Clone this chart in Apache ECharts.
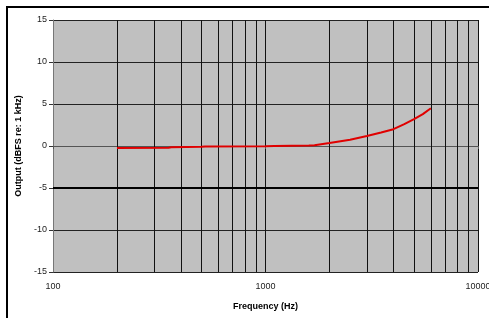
<!DOCTYPE html>
<html lang="en">
<head>
    <meta charset="UTF-8">
    <script type="text/javascript" src="https://cdn.jsdelivr.net/npm/echarts@6/dist/echarts.min.js"></script>
    <title>Frequency response</title>
</head>
<body style="margin:0;background:#fff;">
<div id="chart" style="width: 489px;height:318px;"></div>
<script type="text/javascript">
    var freqs = [200, 350, 360, 500, 520, 1000, 1100, 1600, 1700, 2000, 2500, 3000, 3500, 4000, 4500, 5000, 5500, 6000];
    var output = [-0.25, -0.2, -0.15, -0.1, -0.05, -0.02, 0, 0.05, 0.1, 0.35, 0.75, 1.2, 1.6, 2.0, 2.6, 3.2, 3.8, 4.5];
    var yTicks = [-15, -10, -5, 0, 5, 10, 15];
    // intermediate log grid lines
    var minorFreqs = [200, 300, 400, 500, 600, 700, 800, 900, 2000, 3000, 4000, 5000, 6000, 7000, 8000, 9000];

    var chart = echarts.init(document.getElementById('chart'));
    var font = 'Liberation Sans, Arial, sans-serif';

    chart.setOption({
        animation: false,
        textStyle: { fontFamily: font },
        // frame: only top and left edges fall inside the picture
        graphic: [{
            type: 'rect',
            shape: { x: 7, y: 7, width: 600, height: 600 },
            style: { fill: null, stroke: '#000', lineWidth: 2 },
            z: 100
        }],
        grid: {
            left: 53, top: 20, right: 11, bottom: 46,
            outerBoundsMode: 'none',
            containLabel: false,
            show: true, backgroundColor: '#c0c0c0', borderWidth: 0
        },
        xAxis: {
            type: 'log',
            logBase: 10,
            min: 100,
            max: 10000,
            name: 'Frequency (Hz)',
            nameLocation: 'middle',
            nameGap: 30,
            nameTextStyle: { fontWeight: 'bold', fontSize: 9, color: '#000', fontFamily: font },
            axisLine: { lineStyle: { color: '#555', width: 1 } },
            axisTick: { length: 3, lineStyle: { color: '#555' } },
            axisLabel: {
                fontSize: 9, color: '#222', margin: 10,
                formatter: function (v) { return String(Math.round(v)); }
            },
            splitLine: { show: true, lineStyle: { color: '#111', width: 1 } }
        },
        yAxis: {
            type: 'value',
            min: yTicks[0],
            max: yTicks[yTicks.length - 1],
            interval: 5,
            name: 'Output (dBFS re: 1 kHz)',
            nameLocation: 'middle',
            nameGap: 28,
            nameTextStyle: { fontWeight: 'bold', fontSize: 9, color: '#000', fontFamily: font },
            axisLine: { show: true, lineStyle: { color: '#777', width: 1 } },
            axisTick: { show: true, length: 4, lineStyle: { color: '#333' } },
            axisLabel: { fontSize: 9, color: '#222', margin: 6 },
            splitLine: { show: true, lineStyle: { color: '#222', width: 1 } }
        },
        series: [{
            type: 'line',
            data: freqs.map(function (f, i) { return [f, output[i]]; }),
            symbol: 'none',
            lineStyle: { color: '#e00000', width: 2 },
            z: 5,
            markLine: {
                silent: true,
                symbol: 'none',
                label: { show: false },
                data: minorFreqs.map(function (f) {
                    return { xAxis: f, lineStyle: { color: '#111', width: 1, type: 'solid' } };
                }).concat([{ yAxis: -5, lineStyle: { color: '#000', width: 2, type: 'solid' } }])
            }
        }]
    });
</script>
</body>
</html>
